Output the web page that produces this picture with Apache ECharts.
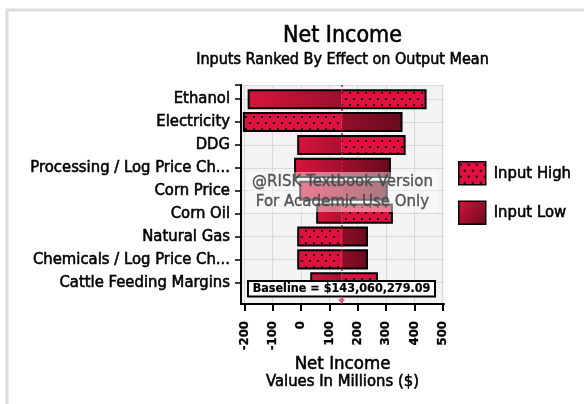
<!DOCTYPE html>
<html>
<head>
<meta charset="utf-8">
<script src="https://cdn.jsdelivr.net/npm/echarts@6/dist/echarts.min.js"></script>
<style>
  html, body { margin: 0; padding: 0; background: #fff; }
  #main { width: 584px; height: 404px; }
</style>
</head>
<body>
<div id="main"></div>
<script>
// Tornado chart: range of Net Income mean across each input, in millions of dollars
const categories = [
  'Ethanol', 'Electricity', 'DDG', 'Processing / Log Price Ch...', 'Corn Price',
  'Corn Oil', 'Natural Gas', 'Chemicals / Log Price Ch...', 'Cattle Feeding Margins'
];
const baselineValue = 143.06027909;          // output mean, millions
const barMin = [-185, -202, -10, -21, -3, 57, -10, -10, 36];
const barMax = [440, 355, 366, 314, 303, 321, 233, 233, 268];
// side of the baseline reached by the high input setting (null: whole bar drawn as low)
const highSide = ['right', 'left', 'right', null, null, 'right', 'left', 'left', 'right'];
const xTickValues = [-200, -100, 0, 100, 200, 300, 400, 500];
const legendNames = ['Input High', 'Input Low'];

const FONT = "'DejaVu Sans Condensed', 'DejaVu Sans', sans-serif";
const FONT_WIDE = "'DejaVu Sans', Verdana, sans-serif";
const HIGH_RED = '#de1140';
const LOW_LIGHT = '#d8143c';
const LOW_DARK = '#680a1d';
const INK = '#000';
const INK_W = 0.55;   // slight stroke to give the text a heavier face

// dotted fill for the "Input High" segments
function makeDots() {
  const c = document.createElement('canvas');
  c.width = 8; c.height = 12;
  const g = c.getContext('2d');
  g.fillStyle = HIGH_RED;
  g.fillRect(0, 0, 8, 12);
  g.fillStyle = '#1a0006';
  g.fillRect(1, 2, 2, 2);
  g.fillRect(5, 8, 2, 2);
  return c;
}
const dotPattern = { image: makeDots(), repeat: 'repeat' };

// split every bar into its high / low pieces around the baseline
const highData = [], lowData = [], outlineData = [];
categories.forEach((name, i) => {
  const pos = i + 1;
  outlineData.push([pos, barMin[i], barMax[i]]);
  if (highSide[i] === 'right') {
    highData.push([pos, baselineValue, barMax[i], barMin[i], barMax[i]]);
    lowData.push([pos, barMin[i], baselineValue, barMin[i], barMax[i]]);
  } else if (highSide[i] === 'left') {
    highData.push([pos, barMin[i], baselineValue, barMin[i], barMax[i]]);
    lowData.push([pos, baselineValue, barMax[i], barMin[i], barMax[i]]);
  } else {
    lowData.push([pos, barMin[i], barMax[i], barMin[i], barMax[i]]);
  }
});

const BAR_FRAC = 0.79;

function segmentShape(api) {
  const y = api.value(0);
  const a = api.coord([api.value(1), y]);
  const b = api.coord([api.value(2), y]);
  const h = api.size([0, 1])[1] * BAR_FRAC;
  return { x: a[0], y: a[1] - h / 2, width: b[0] - a[0], height: h };
}

function renderHigh(params, api) {
  return { type: 'rect', shape: segmentShape(api), style: { fill: dotPattern } };
}

function renderLow(params, api) {
  const y = api.value(0);
  const s = api.coord([api.value(3), y]);
  const e = api.coord([api.value(4), y]);
  const grad = new echarts.graphic.LinearGradient(s[0], 0, e[0], 0, [
    { offset: 0, color: LOW_LIGHT },
    { offset: 1, color: LOW_DARK }
  ], true);
  return { type: 'rect', shape: segmentShape(api), style: { fill: grad } };
}

function renderOutline(params, api) {
  return {
    type: 'rect', shape: segmentShape(api),
    style: { fill: 'none', stroke: '#000', lineWidth: 2 }
  };
}

const labelFor = {};
categories.forEach((c, i) => { labelFor[i + 1] = c; });

const chart = echarts.init(document.getElementById('main'), null, { renderer: 'canvas' });

const yMin = 0.38, yMax = 9.95;

chart.setOption({
  animation: false,
  backgroundColor: '#fff',
  textStyle: { fontFamily: FONT },
  grid: {
    left: 241, top: 85, right: 140, bottom: 100,
    show: true, backgroundColor: '#f3f3f3', borderWidth: 0
  },
  xAxis: {
    type: 'value', min: -212, max: 505,
    axisLine: { show: true, onZero: false, lineStyle: { color: '#000', width: 2 } },
    axisTick: { show: true, length: 7, customValues: xTickValues, lineStyle: { color: '#000', width: 2 } },
    axisLabel: {
      customValues: xTickValues, rotate: 90, margin: 17,
      color: INK, fontSize: 13, fontWeight: 'bold', fontFamily: FONT,
      textBorderColor: INK, textBorderWidth: 0.3
    },
    splitLine: { show: true, lineStyle: { color: '#d9d9d9', width: 1 } }
  },
  yAxis: {
    type: 'value', inverse: true, min: yMin, max: yMax,
    axisLine: { show: true, onZero: false, lineStyle: { color: '#000', width: 2 } },
    axisTick: {
      show: true, length: 6, customValues: [yMin, 1, 2, 3, 4, 5, 6, 7, 8, 9],
      lineStyle: { color: '#000', width: 1.5 }
    },
    axisLabel: {
      customValues: [1, 2, 3, 4, 5, 6, 7, 8, 9], margin: 11,
      color: INK, fontSize: 16.5, fontFamily: FONT,
      textBorderColor: INK, textBorderWidth: INK_W,
      formatter: v => labelFor[Math.round(v)] || ''
    },
    splitLine: { show: true, lineStyle: { color: '#d9d9d9', width: 1 } }
  },
  legend: {
    orient: 'vertical', left: 458, top: 161, padding: 0,
    itemWidth: 27, itemHeight: 23, itemGap: 15,
    textStyle: { fontSize: 16.5, color: INK, fontFamily: FONT, padding: [0, 0, 0, 3],
                 textBorderColor: INK, textBorderWidth: INK_W },
    data: [
      { name: legendNames[0], icon: 'rect',
        itemStyle: { color: dotPattern, borderColor: '#000', borderWidth: 1.5 } },
      { name: legendNames[1], icon: 'rect',
        itemStyle: {
          color: new echarts.graphic.LinearGradient(0, 0, 1, 1, [
            { offset: 0, color: LOW_LIGHT }, { offset: 1, color: LOW_DARK }
          ]),
          borderColor: '#000', borderWidth: 1.5
        } }
    ]
  },
  series: [
    {
      type: 'line', data: [], z: 1, silent: true,
      markLine: {
        silent: true, symbol: 'none', label: { show: false },
        lineStyle: { color: '#d0143c', type: [2, 2], width: 1.5 },
        data: [{ xAxis: baselineValue }]
      }
    },
    {
      name: legendNames[1], type: 'custom', z: 3, renderItem: renderLow,
      encode: { x: [1, 2], y: 0 }, data: lowData,
      itemStyle: { color: LOW_LIGHT }
    },
    {
      name: legendNames[0], type: 'custom', z: 3, renderItem: renderHigh,
      encode: { x: [1, 2], y: 0 }, data: highData,
      itemStyle: { color: HIGH_RED }
    },
    {
      type: 'custom', z: 4, renderItem: renderOutline, silent: true,
      encode: { x: [1, 2], y: 0 }, data: outlineData
    }
  ]
});

// annotations placed from the axis scale
const bx = chart.convertToPixel({ xAxisIndex: 0 }, baselineValue);
const plotLeft = chart.convertToPixel({ xAxisIndex: 0 }, -212);
const plotRight = chart.convertToPixel({ xAxisIndex: 0 }, 505);
const midX = (plotLeft + plotRight) / 2;

function label(text, x, y, size, extra) {
  return Object.assign({
    type: 'text', x: x, y: y, z: 10,
    style: { text: text, font: size + 'px ' + FONT, fill: INK,
             stroke: INK, lineWidth: INK_W,
             textAlign: 'center', textVerticalAlign: 'middle' }
  }, extra || {});
}

const MARK_INK = 'rgba(70,70,70,0.9)';

chart.setOption({
  graphic: [
    { type: 'rect', silent: true, z: 0,
      shape: { x: 7, y: 10, width: 620, height: 440 },
      style: { fill: 'none', stroke: '#dcdcdc', lineWidth: 3 } },
    label('Net Income', midX, 36, 23),
    label('Inputs Ranked By Effect on Output Mean', midX, 60, 16),
    label('Net Income', midX, 364, 18.5),
    label('Values In Millions ($)', midX, 382, 16.5),
    // baseline callout
    { type: 'rect', z: 20,
      shape: { x: bx - 93.5, y: 281, width: 187, height: 15.5 },
      style: { fill: '#fff', stroke: '#000', lineWidth: 2 } },
    { type: 'text', x: bx, y: 289, z: 21,
      style: { text: 'Baseline = $143,060,279.09', font: 'bold 12.5px ' + FONT, fill: INK,
               stroke: INK, lineWidth: 0.2,
               textAlign: 'center', textVerticalAlign: 'middle' } },
    { type: 'polygon', z: 21,
      shape: { points: [[bx - 3.5, 299], [bx + 3.5, 299], [bx, 304]] },
      style: { fill: '#e0607c' } },
    { type: 'rect', z: 21,
      shape: { x: bx - 1, y: 297, width: 2, height: 3 },
      style: { fill: '#e0607c' } },
    // watermark
    { type: 'rect', z: 30, silent: true,
      shape: { x: 247, y: 172, width: 191, height: 40 },
      style: { fill: 'rgba(255,255,255,0.45)' } },
    { type: 'text', x: midX, y: 182, z: 31, silent: true,
      style: { text: '@RISK Textbook Version', font: '15px ' + FONT_WIDE, fill: MARK_INK,
               stroke: MARK_INK, lineWidth: 0.35,
               textAlign: 'center', textVerticalAlign: 'middle' } },
    { type: 'text', x: midX, y: 202.5, z: 31, silent: true,
      style: { text: 'For Academic Use Only', font: '15px ' + FONT_WIDE, fill: MARK_INK,
               stroke: MARK_INK, lineWidth: 0.35,
               textAlign: 'center', textVerticalAlign: 'middle' } }
  ]
});
</script>
</body>
</html>
